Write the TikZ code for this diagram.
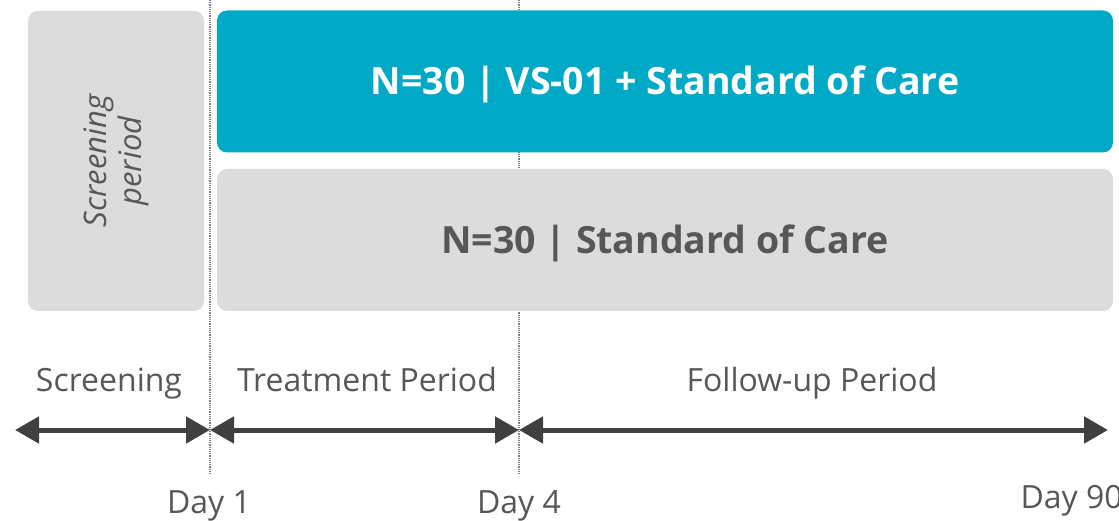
\documentclass[tikz,border=0pt]{standalone}
\usepackage{fontspec}
\setmainfont{Open Sans}
\usetikzlibrary{arrows.meta}

\definecolor{teal}{HTML}{00A9C5}
\definecolor{boxgray}{HTML}{DCDCDC}
\definecolor{textgray}{HTML}{575757}
\definecolor{arrowgray}{HTML}{404040}

\tikzset{
    armbox/.style={rounded corners=10pt, minimum height=142pt, inner sep=0pt},
    armtext/.style={font=\fontsize{37.5}{42}\selectfont\bfseries},
    timeline/.style={line width=5pt, arrowgray, {Triangle[length=24pt,width=26pt]}-{Triangle[length=24pt,width=26pt]}},
    daymark/.style={densely dotted, line width=1.2pt, gray},
    periodlabel/.style={font=\fontsize{32}{36}\selectfont, textgray, anchor=base},
    daylabel/.style={font=\fontsize{32}{36}\selectfont, textgray, anchor=base}
}

\begin{document}
\begin{tikzpicture}[x=1pt, y=-1pt]

    % Fix the page size to the reference (pixels as points, y downwards)
    \useasboundingbox (0, 0) rectangle (1119, 521);

    % Define the time points on the axis
    \coordinate (S) at (15, 430);     % Start of screening
    \coordinate (D1) at (210, 430);   % Day 1
    \coordinate (D4) at (519, 430);   % Day 4
    \coordinate (D90) at (1108, 430); % Day 90

    % Draw the dotted lines marking Day 1 and Day 4
    \draw[daymark] (210, 0) -- (210, 475);
    \draw[daymark] (519, 0) -- (519, 475);

    % Draw the screening box (left)
    \node[armbox, fill=boxgray, minimum width=176pt, minimum height=300pt] (screen) at (116, 161) {};
    \node[rotate=90, align=center, textgray, font=\fontsize{31}{35}\selectfont\itshape] (screentext) at (screen.center) {Screening\\period};

    % Draw the two study arms
    \node[armbox, fill=teal, minimum width=896pt] (arm1) at (665, 81.5) {};
    \node[armbox, fill=boxgray, minimum width=896pt] (arm2) at (665, 240) {};
    \node[armtext, text=white] (arm1text) at ([yshift=-3pt]arm1.center) {N=30 | VS-01 + Standard of Care};
    \node[armtext, text=textgray] (arm2text) at ([yshift=-3pt]arm2.center) {N=30 | Standard of Care};

    % Draw the timeline arrows
    \draw[timeline] (S) -- (D1);
    \draw[timeline] (D1) -- (D4);
    \draw[timeline] (D4) -- (D90);

    % Label the periods (on one baseline)
    \node[periodlabel] (screenlabel) at (109, 391) {Screening};
    \node[periodlabel] (treatlabel) at (367, 391) {Treatment Period};
    \node[periodlabel] (followlabel) at (812, 391) {Follow-up Period};

    % Label the days
    \node[daylabel] (day1) at (209, 513) {Day 1};
    \node[daylabel] (day4) at (519, 513) {Day 4};
    \node[daylabel, anchor=base west] (day90) at (1017, 508) {Day 90};

\end{tikzpicture}
\end{document}
